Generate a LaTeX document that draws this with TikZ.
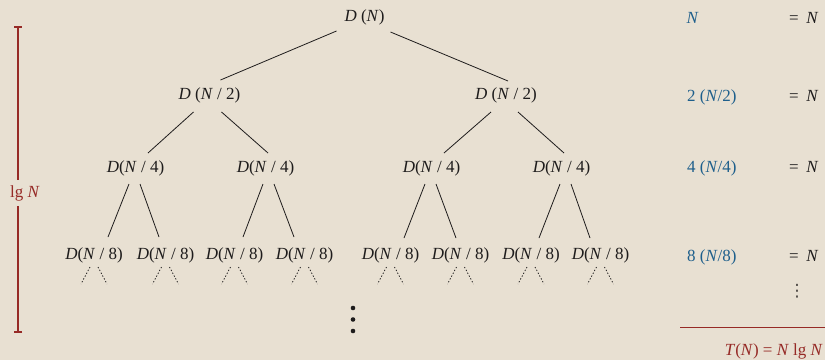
\documentclass[tikz,border=0pt]{standalone}
\usepackage{fontspec}
\setmainfont{Liberation Serif}
\newfontfamily\symfont{DejaVu Sans}
\usetikzlibrary{arrows.meta}
\definecolor{bg}{RGB}{232,224,210}
\definecolor{myred}{RGB}{150,42,38}
\definecolor{myblue}{RGB}{30,95,140}
\definecolor{ink}{RGB}{30,28,28}
\definecolor{softink}{RGB}{70,66,62}
\newcommand{\Dtop}{\textit{D} (\textit{N})}
\newcommand{\Dtwo}{\textit{D} (\textit{N} / 2)}
\newcommand{\Dk}[1]{\textit{D}(\textit{N} / #1)}
\newcommand{\tedge}[6]{\draw[edge] ([shift={(#3,#4)}]#1.center) -- ([shift={(#5,#6)}]#2.center);}
\newcommand{\tdots}[1]{\draw[dotl] ([shift={(-4,12)}]#1.center) -- ++(-9,17);
  \draw[dotl] ([shift={(4,12)}]#1.center) -- ++(9,17);}
\begin{document}
\begin{tikzpicture}[x=1pt,y=-1pt,
  every node/.style={inner sep=0pt, text=ink},
  base/.style={font=\fontsize{17}{20}\selectfont},
  tn/.style={base, anchor=center},
  col/.style={base, anchor=base west, text=myblue},
  eqn/.style={base, anchor=base west},
  edge/.style={draw=ink, line width=0.8pt},
  dotl/.style={draw=ink, line width=0.8pt, dash pattern=on 1.3pt off 1.9pt},
  bigdot/.style={fill=ink, circle, minimum size=4.6pt}]
\fill[bg] (0,0) rectangle (825,360);
\useasboundingbox (0,0) rectangle (825,360);

% tree nodes
\node[tn] (a) at (364.5,17) {\Dtop};
\node[tn] (b1) at (209.5,95) {\Dtwo};
\node[tn] (b2) at (506,95) {\Dtwo};
\node[tn] (c1) at (135.5,168) {\Dk{4}};
\node[tn] (c2) at (265.5,168) {\Dk{4}};
\node[tn] (c3) at (431.5,168) {\Dk{4}};
\node[tn] (c4) at (561.5,168) {\Dk{4}};
\node[tn] (d1) at (94,255) {\Dk{8}};
\node[tn] (d2) at (165.5,255) {\Dk{8}};
\node[tn] (d3) at (234.5,255) {\Dk{8}};
\node[tn] (d4) at (304.5,255) {\Dk{8}};
\node[tn] (d5) at (390.5,255) {\Dk{8}};
\node[tn] (d6) at (460.5,255) {\Dk{8}};
\node[tn] (d7) at (531,255) {\Dk{8}};
\node[tn] (d8) at (600.5,255) {\Dk{8}};

% edges
\tedge{a}{b1}{-28}{14}{11}{-15}
\tedge{a}{b2}{26}{15}{2}{-14}
\tedge{b1}{c1}{-16}{17}{12.5}{-15}
\tedge{b1}{c2}{12}{17}{2.5}{-15}
\tedge{b2}{c3}{-15}{17}{12.5}{-15}
\tedge{b2}{c4}{12}{17}{2.5}{-15}
\tedge{c1}{d1}{-6.5}{16}{14}{-18}
\tedge{c1}{d2}{4.5}{16}{-6.5}{-18}
\tedge{c2}{d3}{-2.5}{16}{8.5}{-18}
\tedge{c2}{d4}{8.5}{16}{-10.5}{-18}
\tedge{c3}{d5}{-6.5}{16}{13.5}{-17}
\tedge{c3}{d6}{4.5}{16}{-4.5}{-17}
\tedge{c4}{d7}{-1.5}{16}{8}{-17}
\tedge{c4}{d8}{9.5}{16}{-10.5}{-17}

% dotted continuations
\tdots{d1}\tdots{d2}\tdots{d3}\tdots{d4}\tdots{d5}\tdots{d6}\tdots{d7}\tdots{d8}

% vertical dots
\node[bigdot] (v1) at (353,308) {};
\node[bigdot] (v2) at (353,319.5) {};
\node[bigdot] (v3) at (353,331) {};

% left height bar
\coordinate (bt) at (18,26);
\coordinate (bb) at (18,333);
\draw[myred, line width=1.6pt, {Bar[width=8pt,length=0pt,line width=1.6pt]}-{Bar[width=8pt,length=0pt,line width=1.6pt]}] (bt) -- (bb);
\node[base, anchor=base, fill=bg, inner xsep=1pt, inner ysep=5pt, text=myred] (lg) at (25,197) {lg \textit{N}};

% right column
\node[col] (r1) at (686.5,23.5) {\textit{N}};
\node[col] (r2) at (687,101) {2 (\textit{N}/2)};
\node[col] (r3) at (687,172) {4 (\textit{N}/4)};
\node[col] (r4) at (687,261) {8 (\textit{N}/8)};
\node[eqn] (e1) at (789,23.5) {=\hspace{0.45em}\textit{N}};
\node[eqn] (e2) at (789,101) {=\hspace{0.45em}\textit{N}};
\node[eqn] (e3) at (789,172) {=\hspace{0.45em}\textit{N}};
\node[eqn] (e4) at (789,261) {=\hspace{0.45em}\textit{N}};
\node[anchor=center, text=softink, font=\symfont\fontsize{17}{19}\selectfont] (vd) at (797,291) {⋮};
\coordinate (hl) at (680,327);
\coordinate (hr) at (825,327);
\draw[myred, line width=0.8pt] (hl) -- (hr);
\node[base, anchor=base east, text=myred] (tn) at (823,355) {\textit{T}(\textit{N}) = \textit{N} lg \textit{N}};
\end{tikzpicture}
\end{document}
